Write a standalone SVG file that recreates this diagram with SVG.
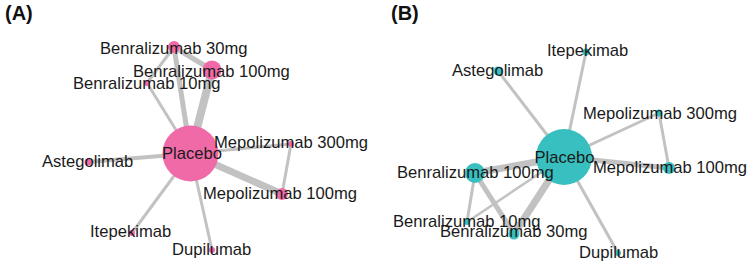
<svg xmlns="http://www.w3.org/2000/svg" width="750" height="268" viewBox="0 0 750 268">
<style>
.bg{fill:#ffffff}
.e{stroke:#c2c2c2;stroke-linecap:butt;fill:none}
.pa{fill:#f06aa8}
.pb{fill:#38bfbf}
.lbl{font-family:"Liberation Sans",Arial,sans-serif;font-size:16.6px;fill:#1a1a1a}
.c{text-anchor:middle}
.ttl{font-family:"Liberation Sans",Arial,sans-serif;font-size:20px;font-weight:bold;fill:#111}
</style>
<rect class="bg" width="750" height="268"/>
<text class="ttl" x="5" y="20">(A)</text>
<text class="ttl" x="391" y="20">(B)</text>
<g id="edges-A">
<line class="e" x1="190.5" y1="153.5" x2="174" y2="47" stroke-width="5"/>
<line class="e" x1="190.5" y1="153.5" x2="212" y2="70" stroke-width="8"/>
<line class="e" x1="190.5" y1="153.5" x2="147" y2="83" stroke-width="3"/>
<line class="e" x1="174" y1="47" x2="212" y2="70" stroke-width="5"/>
<line class="e" x1="174" y1="47" x2="147" y2="83" stroke-width="3"/>
<line class="e" x1="190.5" y1="153.5" x2="291" y2="144" stroke-width="3"/>
<line class="e" x1="190.5" y1="153.5" x2="282" y2="194" stroke-width="7"/>
<line class="e" x1="291" y1="144" x2="282" y2="194" stroke-width="3"/>
<line class="e" x1="190.5" y1="153.5" x2="88" y2="162" stroke-width="4"/>
<line class="e" x1="190.5" y1="153.5" x2="132" y2="233" stroke-width="3"/>
<line class="e" x1="190.5" y1="153.5" x2="212" y2="250" stroke-width="3"/>
</g>
<g id="edges-B">
<line class="e" x1="564" y1="157" x2="586" y2="52" stroke-width="3"/>
<line class="e" x1="564" y1="157" x2="498" y2="71" stroke-width="3"/>
<line class="e" x1="564" y1="157" x2="659" y2="113" stroke-width="3"/>
<line class="e" x1="659" y1="113" x2="669" y2="168" stroke-width="3"/>
<line class="e" x1="564" y1="157" x2="669" y2="168" stroke-width="5"/>
<line class="e" x1="564" y1="157" x2="475" y2="173" stroke-width="7"/>
<line class="e" x1="564" y1="157" x2="514" y2="234" stroke-width="7"/>
<line class="e" x1="564" y1="157" x2="467" y2="222" stroke-width="2.5"/>
<line class="e" x1="475" y1="173" x2="467" y2="222" stroke-width="3"/>
<line class="e" x1="475" y1="173" x2="514" y2="234" stroke-width="5"/>
<line class="e" x1="564" y1="157" x2="618" y2="253" stroke-width="3"/>
</g>
<g id="A-placebo"><circle class="pa" cx="190.5" cy="153.5" r="28"/><text class="lbl c" x="192" y="159">Placebo</text></g>
<g id="A-benra30"><circle class="pa" cx="174" cy="47" r="6"/><text class="lbl" x="100" y="54">Benralizumab 30mg</text></g>
<g id="A-benra100"><circle class="pa" cx="212" cy="70" r="9.5"/><text class="lbl" x="133" y="77">Benralizumab 100mg</text></g>
<g id="A-benra10"><circle class="pa" cx="147" cy="83" r="3"/><text class="lbl" x="73" y="89">Benralizumab 10mg</text></g>
<g id="A-mepo300"><circle class="pa" cx="291" cy="144" r="3"/><text class="lbl" x="214" y="148">Mepolizumab 300mg</text></g>
<g id="A-mepo100"><circle class="pa" cx="282" cy="194" r="6"/><text class="lbl" x="203" y="199">Mepolizumab 100mg</text></g>
<g id="A-astego"><circle class="pa" cx="88" cy="162" r="3.5"/><text class="lbl" x="42" y="167">Astegolimab</text></g>
<g id="A-itepe"><circle class="pa" cx="132" cy="233" r="3"/><text class="lbl" x="90" y="237">Itepekimab</text></g>
<g id="A-dupi"><circle class="pa" cx="212" cy="250" r="3"/><text class="lbl" x="172" y="255">Dupilumab</text></g>
<g id="B-placebo"><circle class="pb" cx="564" cy="157" r="28"/><text class="lbl c" x="564.5" y="163">Placebo</text></g>
<g id="B-itepe"><circle class="pb" cx="586" cy="52" r="3.5"/><text class="lbl" x="547" y="56">Itepekimab</text></g>
<g id="B-astego"><circle class="pb" cx="498" cy="71" r="4.5"/><text class="lbl" x="452" y="76">Astegolimab</text></g>
<g id="B-mepo300"><circle class="pb" cx="659" cy="113" r="3.5"/><text class="lbl" x="583" y="119">Mepolizumab 300mg</text></g>
<g id="B-mepo100"><circle class="pb" cx="669" cy="168" r="6"/><text class="lbl" x="593" y="173">Mepolizumab 100mg</text></g>
<g id="B-benra100"><circle class="pb" cx="475" cy="173" r="10"/><text class="lbl" x="397" y="178">Benralizumab 100mg</text></g>
<g id="B-benra10"><circle class="pb" cx="467" cy="222" r="3"/><text class="lbl" x="393" y="227">Benralizumab 10mg</text></g>
<g id="B-benra30"><circle class="pb" cx="514" cy="234" r="5.5"/><text class="lbl" x="440" y="237">Benralizumab 30mg</text></g>
<g id="B-dupi"><circle class="pb" cx="618" cy="253" r="3"/><text class="lbl" x="579" y="258">Dupilumab</text></g>
</svg>
